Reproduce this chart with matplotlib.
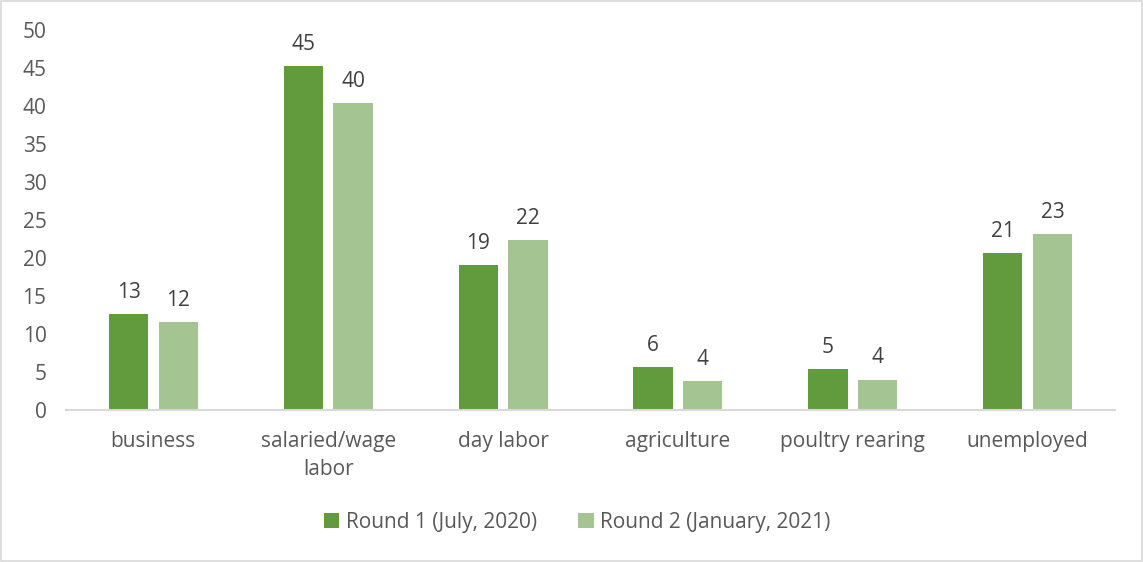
import numpy as np
import matplotlib.pyplot as plt
from matplotlib.patches import Rectangle

# ======================
# DATA
# ======================
categories = ["business", "salaried/wage\nlabor", "day labor", "agriculture",
              "poultry rearing", "unemployed"]
round1 = [12.6, 45.2, 19.1, 5.6, 5.4, 20.6]
round2 = [11.6, 40.4, 22.4, 3.8, 4.0, 23.2]
series_names = ["Round 1 (July, 2020)", "Round 2 (January, 2021)"]
y_ticks = [0, 5, 10, 15, 20, 25, 30, 35, 40, 45, 50]

# ======================
# STYLE
# ======================
plt.rcParams['font.family'] = ['Open Sans', 'DejaVu Sans']
text_color = "#595959"
color_r1 = "#629a3e"
color_r2 = "#a4c591"
fs = 15

fig = plt.figure(figsize=(11.43, 5.62), dpi=100)
ax = fig.add_axes([0.0577, 0.2705, 0.9178, 0.6761])

x = np.arange(len(categories))
width = 0.225
offset = 0.142

bars1 = ax.bar(x - offset, round1, width, color=color_r1, label=series_names[0])
bars2 = ax.bar(x + offset, round2, width, color=color_r2, label=series_names[1])

# value labels above each bar
for bars in (bars1, bars2):
    for b in bars:
        v = b.get_height()
        ax.annotate(f"{v:.0f}", (b.get_x() + b.get_width() / 2, v),
                    xytext=(0, 8), textcoords="offset points",
                    ha="center", va="bottom", fontsize=fs, color="#404040")

ax.set_xlim(-0.5, len(categories) - 0.5)
ax.set_ylim(0, 50)
ax.set_yticks(y_ticks)
ax.set_xticks(x)
ax.set_xticklabels(categories, fontsize=fs, color=text_color, linespacing=1.45)
ax.tick_params(axis='y', labelsize=fs, labelcolor=text_color, length=0, pad=14)
ax.tick_params(axis='x', length=0, pad=15)

for side in ("top", "right", "left"):
    ax.spines[side].set_visible(False)
ax.spines["bottom"].set_color("#d9d9d9")
ax.spines["bottom"].set_linewidth(1.5)

# ======================
# LEGEND
# ======================
fig.legend(loc="center", bbox_to_anchor=(0.505, 0.071), ncol=2, frameon=False,
           fontsize=fs, labelcolor=text_color, handlelength=0.75, handleheight=0.75,
           handletextpad=0.3, columnspacing=2.0)

# light border around the whole chart
fig.patches.append(Rectangle((0.001, 0.002), 0.998, 0.996, transform=fig.transFigure,
                             fill=False, edgecolor="#d9d9d9", linewidth=1.2))

fig.savefig("out.png", dpi=100)
